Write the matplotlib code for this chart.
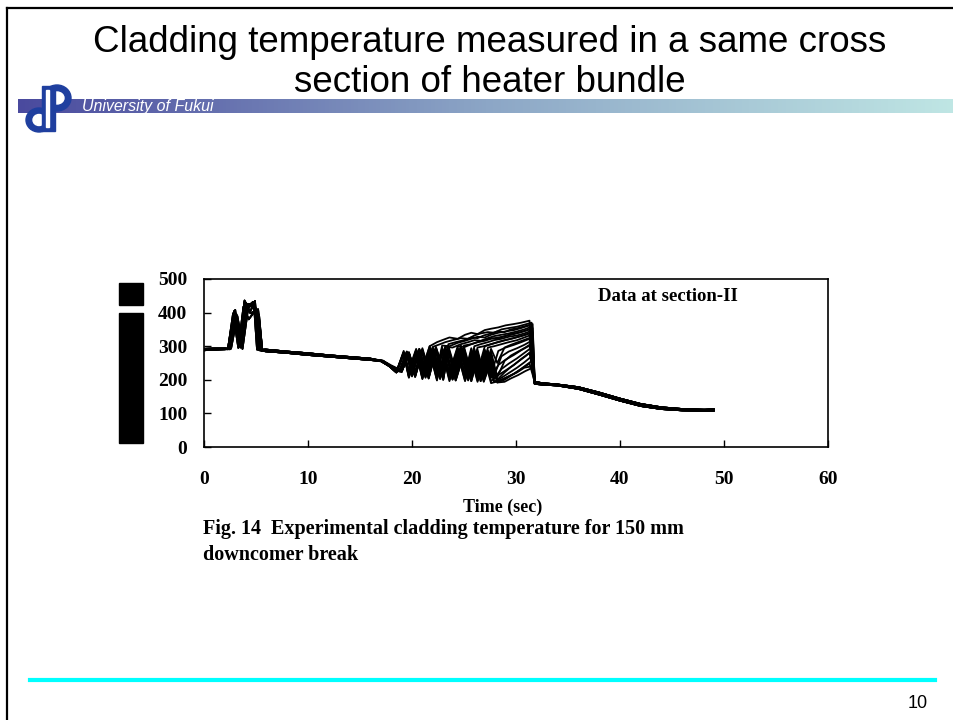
import matplotlib.pyplot as plt
from matplotlib.colors import LinearSegmentedColormap
from matplotlib.patches import Rectangle, Ellipse
from matplotlib.lines import Line2D
import numpy as np

W, H = 954, 720

# ---- values (time in s, temperature) ----
pre_t = [0.0, 1.0, 2.0]
pre_T = [[288, 290, 291],
         [292, 293, 293],
         [290, 291, 292]]

spike_t = [[2.3, 2.9, 3.4, 3.9, 4.4, 4.8, 5.1],
           [2.4, 3.0, 3.5, 4.0, 4.4, 4.9, 5.3],
           [2.5, 3.1, 3.6, 4.1, 4.6, 5.1, 5.5],
           [2.3, 2.8, 3.3, 3.8, 4.3, 4.9, 5.3],
           [2.4, 2.9, 3.6, 4.2, 4.7, 5.3, 5.6],
           [2.6, 3.2, 3.7, 4.1, 4.5, 5.0, 5.4],
           [2.5, 3.0, 3.4, 3.9, 4.5, 5.2, 5.6],
           [2.4, 3.1, 3.7, 4.3, 4.8, 5.2, 5.5]]
spike_T = [[292, 405, 300, 432, 418, 425, 290],
           [292, 400, 296, 428, 400, 435, 288],
           [293, 395, 305, 420, 428, 395, 287],
           [291, 398, 295, 418, 380, 405, 289],
           [292, 402, 298, 412, 432, 390, 288],
           [293, 390, 308, 415, 425, 400, 289],
           [291, 408, 302, 436, 398, 410, 290],
           [292, 396, 292, 426, 412, 380, 288]]

decline_t = [5.9, 8.0, 10.0, 12.0, 14.0, 16.0]
decline_T = [[288, 282, 277, 271, 266, 261],
             [285, 280, 274, 269, 264, 259],
             [290, 284, 279, 273, 268, 263]]

osc_t_a = [17.0, 17.8, 18.5, 19.2, 19.7, 20.4, 21.0, 21.7, 22.4, 22.9, 23.6,
           24.4, 25.1, 25.7, 26.3, 27.0, 27.6, 28.3, 29.0, 29.8, 30.5, 31.3]
osc_t_b = [17.1, 17.9, 18.8, 19.5, 20.0, 20.7, 21.3, 22.0, 22.7, 23.2, 23.9,
           24.7, 25.4, 26.0, 26.6, 27.3, 27.9, 28.6, 29.3, 30.1, 30.8, 31.5]
osc_t_c = [17.2, 18.0, 19.0, 19.7, 20.3, 21.0, 21.6, 22.3, 23.0, 23.5, 24.2,
           25.0, 25.7, 26.3, 26.9, 27.6, 28.2, 28.9, 29.5, 30.2, 30.9, 31.6]
osc_T = [
    [256, 242, 226, 282, 230, 292, 236, 300, 312, 318, 326, 322, 334, 340, 336, 348, 352, 356, 362, 366, 370, 376],
    [255, 240, 224, 284, 228, 290, 232, 298, 306, 312, 318, 324, 322, 332, 338, 342, 340, 350, 354, 358, 364, 370],
    [257, 243, 228, 280, 226, 294, 230, 296, 234, 306, 312, 318, 326, 324, 332, 338, 344, 342, 350, 354, 360, 366],
    [256, 241, 222, 286, 224, 288, 228, 300, 232, 302, 300, 310, 316, 322, 328, 326, 334, 340, 344, 348, 354, 362],
    [255, 242, 226, 278, 222, 292, 226, 294, 228, 298, 296, 306, 312, 318, 316, 324, 330, 334, 338, 344, 350, 358],
    [256, 240, 224, 282, 220, 290, 224, 298, 226, 300, 226, 302, 306, 312, 318, 324, 322, 330, 336, 340, 346, 354],
    [257, 241, 222, 280, 218, 286, 222, 292, 224, 296, 222, 300, 298, 306, 312, 316, 322, 326, 330, 336, 342, 350],
    [256, 242, 226, 284, 222, 292, 220, 296, 222, 298, 220, 302, 224, 300, 306, 312, 318, 322, 328, 332, 338, 346],
    [255, 240, 224, 280, 220, 288, 218, 294, 220, 296, 218, 298, 220, 296, 300, 306, 312, 318, 322, 328, 334, 342],
    [256, 241, 222, 278, 216, 286, 216, 290, 218, 294, 216, 296, 218, 294, 222, 300, 306, 312, 318, 324, 330, 338],
    [257, 242, 226, 282, 218, 290, 214, 292, 214, 296, 214, 294, 216, 292, 218, 296, 300, 306, 312, 318, 326, 334],
    [256, 240, 224, 280, 214, 286, 212, 290, 212, 292, 212, 294, 214, 290, 216, 292, 250, 296, 304, 312, 320, 328],
    [255, 241, 222, 276, 212, 284, 210, 288, 210, 292, 210, 290, 212, 288, 212, 290, 214, 286, 296, 304, 312, 322],
    [256, 242, 226, 280, 216, 288, 212, 292, 208, 294, 208, 292, 210, 286, 210, 288, 212, 270, 284, 294, 304, 316],
    [257, 240, 224, 278, 212, 286, 208, 290, 206, 290, 206, 288, 206, 284, 206, 284, 208, 256, 272, 284, 296, 310],
    [256, 241, 222, 282, 210, 288, 206, 288, 204, 292, 204, 290, 204, 282, 204, 282, 206, 244, 260, 274, 288, 302],
    [255, 242, 226, 280, 214, 284, 210, 286, 206, 290, 202, 286, 202, 280, 202, 278, 204, 232, 248, 264, 280, 296],
    [256, 240, 224, 276, 210, 286, 206, 290, 202, 288, 200, 284, 200, 276, 200, 274, 200, 222, 238, 254, 270, 288],
    [257, 241, 222, 280, 208, 282, 204, 286, 200, 288, 200, 282, 198, 272, 198, 270, 196, 214, 228, 244, 262, 280],
    [256, 242, 226, 278, 212, 286, 208, 288, 204, 286, 202, 280, 200, 270, 196, 266, 194, 206, 220, 236, 252, 270],
    [255, 240, 224, 282, 210, 284, 204, 286, 200, 290, 198, 278, 196, 266, 196, 262, 192, 200, 212, 226, 242, 258],
    [256, 241, 222, 276, 206, 282, 202, 284, 198, 286, 196, 276, 196, 262, 194, 258, 190, 196, 206, 218, 232, 248],
    [257, 242, 226, 280, 210, 286, 206, 288, 202, 288, 200, 282, 198, 268, 196, 262, 194, 200, 210, 222, 236, 240],
    [256, 240, 224, 278, 208, 284, 204, 286, 200, 286, 198, 280, 196, 264, 194, 256, 192, 194, 204, 214, 226, 236],
]

tail_t = [31.8, 32.5, 34.0, 36.0, 38.0, 40.0, 42.0, 44.0, 46.0, 48.0, 49.0]
tail_T = [[194, 190, 186, 178, 162, 144, 128, 118, 113, 111, 111],
          [188, 186, 183, 173, 156, 138, 122, 113, 109, 108, 108],
          [191, 188, 185, 176, 159, 141, 125, 116, 111, 110, 112]]

x_ticks = [0, 10, 20, 30, 40, 50, 60]
y_ticks = [0, 100, 200, 300, 400, 500]

serif = 'Liberation Serif'
sans = 'Liberation Sans'


def fx(x):
    return x / W


def fy(y):
    return 1 - y / H


fig = plt.figure(figsize=(W / 100, H / 100), dpi=100)

# slide frame
fig.add_artist(Line2D([fx(7), fx(7)], [fy(8), 0], color='black', lw=1.6))
fig.add_artist(Line2D([fx(7), 1], [fy(8), fy(8)], color='black', lw=1.6))

# gradient band under the title
band = fig.add_axes([fx(18), fy(113), 1 - fx(18), 14 / H])
cmap = LinearSegmentedColormap.from_list('band', ['#4a4a9e', '#8ca6c6', '#bfe6e4'])
band.imshow(np.linspace(0, 1, 256).reshape(1, -1), aspect='auto', cmap=cmap)
band.set_axis_off()
fig.text(fx(82), fy(107), 'University of Fukui', color='white', style='italic',
         fontsize=11.5, family=sans, va='center', ha='left')

# logo (rough)
blue = '#1f3f9f'
fig.add_artist(Ellipse((fx(57), fy(98)), 28 / W, 26 / H, color=blue))
fig.add_artist(Ellipse((fx(57), fy(98)), 14 / W, 12 / H, color='white'))
fig.add_artist(Ellipse((fx(39), fy(120)), 26 / W, 24 / H, color=blue))
fig.add_artist(Ellipse((fx(39), fy(120)), 12 / W, 11 / H, color='white'))
fig.add_artist(Rectangle((fx(42), fy(131)), 13 / W, 45 / H, color=blue))
fig.add_artist(Rectangle((fx(46), fy(127)), 3 / W, 37 / H, color='white'))

fig.text(fx(490), fy(42), 'Cladding temperature measured in a same cross',
         fontsize=26.5, family=sans, ha='center', va='center')
fig.text(fx(490), fy(83), 'section of heater bundle',
         fontsize=26.5, family=sans, ha='center', va='center')

# chart
ax = fig.add_axes([fx(204), fy(447), 624 / W, 168 / H])
grids = [osc_t_a, osc_t_b, osc_t_c]
for i, osc in enumerate(osc_T):
    t = pre_t + spike_t[i % 8] + decline_t + grids[i % 3] + tail_t
    T = pre_T[i % 3] + spike_T[i % 8] + decline_T[(i + 1) % 3] + osc + tail_T[i % 3]
    ax.plot(t, T, color='black', lw=1.3, solid_joinstyle='round')

ax.set_xlim(0, 60)
ax.set_ylim(0, 500)
ax.set_xticks(x_ticks)
ax.set_yticks(y_ticks)
ax.tick_params(direction='in', length=5, width=1, labelsize=14, pad=12)
ax.tick_params(axis='x', pad=17)
for lab in ax.get_xticklabels() + ax.get_yticklabels():
    lab.set_fontfamily(serif)
    lab.set_fontweight('bold')
for s in ax.spines.values():
    s.set_linewidth(1.2)
ax.text(0.744, 0.893, 'Data at section-II', transform=ax.transAxes, ha='center',
        va='center', fontsize=13.5, family=serif, fontweight='bold')

# y-label rendered as black blocks in the original slide
fig.add_artist(Rectangle((fx(119), fy(305)), 24 / W, 22 / H, color='black'))
fig.add_artist(Rectangle((fx(119), fy(443)), 24 / W, 130 / H, color='black'))

fig.text(fx(503), fy(507), 'Time (sec)', fontsize=13, family=serif,
         fontweight='bold', ha='center', va='center')
fig.text(fx(203), fy(529), 'Fig. 14  Experimental cladding temperature for 150 mm',
         fontsize=14.5, family=serif, fontweight='bold', ha='left', va='center')
fig.text(fx(203), fy(555), 'downcomer break',
         fontsize=14.5, family=serif, fontweight='bold', ha='left', va='center')

# footer
fig.add_artist(Line2D([fx(30), fx(935)], [fy(680), fy(680)], color='#00ffff', lw=3))
fig.text(fx(918), fy(703), '10', fontsize=13, family=sans, ha='center', va='center')

fig.savefig('out.png', dpi=100)
